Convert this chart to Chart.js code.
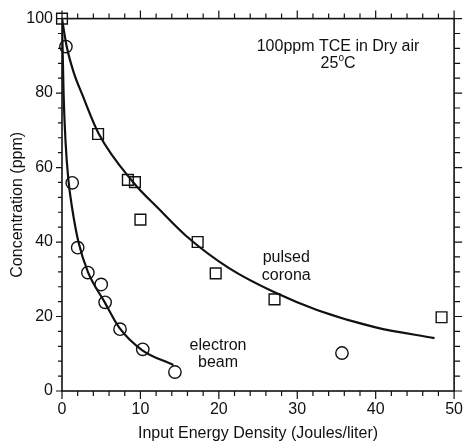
<!DOCTYPE html>
<html>
<head>
<meta charset="utf-8">
<script src="https://cdn.jsdelivr.net/npm/chart.js@4/dist/chart.umd.min.js"></script>
<style>
  html, body { margin: 0; padding: 0; background: #fff; }
</style>
</head>
<body>
<canvas id="myChart" width="472" height="444"></canvas>
<script>
// measured points, pulsed corona (squares)
var coronaX = [0, 4.6, 8.4, 9.3, 10.0, 17.3, 19.6, 27.1, 48.4];
var coronaY = [100, 69, 56.7, 56.1, 46, 40, 31.6, 24.6, 19.8];

// measured points, electron beam (circles)
var beamX = [0.5, 1.3, 2.0, 3.3, 5.0, 5.5, 7.4, 10.3, 14.4, 35.7];
var beamY = [92.5, 55.9, 38.5, 31.8, 28.6, 23.8, 16.6, 11.2, 5.1, 10.2];

// fitted curves
var coronaFitX = [0, 0.6, 1.5, 2.6, 4.7, 9.1, 12.3, 15.8, 21.3, 27.1, 32.6, 40, 47.5];
var coronaFitY = [100, 92.5, 85.5, 79.5, 69, 56, 49, 41.7, 33, 26.5, 21.7, 17.1, 14.2];
var beamFitX = [0, 0.2, 0.45, 0.8, 1.3, 2.1, 3.3, 5.4, 7.3, 10.2, 14.2];
var beamFitY = [100, 80, 67, 57, 49, 40, 32, 24, 17, 11, 7];

var xTicks = [0, 10, 20, 30, 40, 50];
var yTicks = [0, 20, 40, 60, 80, 100];
var xMinorStep = 2;
var yMinorStep = 4;

function pts(xs, ys) {
    return xs.map(function(v, i){ return {x: v, y: ys[i]}; });
}

var ink = '#111';
var font = 'Liberation Sans, Arial, Helvetica, sans-serif';

const frame = {
    id: 'frame',
    afterDraw(chart) {
        const ctx = chart.ctx, a = chart.chartArea;
        const sx = chart.scales.x, sy = chart.scales.y;
        ctx.save();
        ctx.strokeStyle = ink;
        ctx.lineWidth = 1.6;
        ctx.strokeRect(a.left, a.top, a.right - a.left, a.bottom - a.top);
        ctx.lineWidth = 1.2;
        ctx.beginPath();
        for (let v = xTicks[0]; v <= xTicks[xTicks.length - 1]; v += xMinorStep) {
            const px = sx.getPixelForValue(v);
            const len = xTicks.indexOf(v) >= 0 ? 8 : 5;
            ctx.moveTo(px, a.bottom); ctx.lineTo(px, a.bottom + len);
            ctx.moveTo(px, a.top); ctx.lineTo(px, a.top - len);
        }
        for (let v = yTicks[0]; v <= yTicks[yTicks.length - 1]; v += yMinorStep) {
            const py = sy.getPixelForValue(v);
            const len = yTicks.indexOf(v) >= 0 ? 6 : 4;
            ctx.moveTo(a.left, py); ctx.lineTo(a.left - len, py);
            ctx.moveTo(a.right, py); ctx.lineTo(a.right + len + 2, py);
        }
        ctx.stroke();

        // labels inside the plot
        const X = (v) => sx.getPixelForValue(v), Y = (v) => sy.getPixelForValue(v);
        ctx.fillStyle = ink;
        ctx.font = '16px ' + font;
        ctx.textAlign = 'center';
        ctx.textBaseline = 'middle';
        ctx.fillText('100ppm TCE in Dry air', X(35.2), Y(92.5));
        // 25 oC with raised o
        const cx = X(35.2), cy = Y(88);
        const w25 = ctx.measureText('25').width, wC = ctx.measureText('C').width;
        ctx.font = '10px ' + font;
        const wo = ctx.measureText('o').width;
        let left = cx - (w25 + wo + wC) / 2;
        ctx.textAlign = 'left';
        ctx.font = '16px ' + font;
        ctx.fillText('25', left, cy);
        ctx.font = '10px ' + font;
        ctx.fillText('o', left + w25, cy - 5);
        ctx.font = '16px ' + font;
        ctx.fillText('C', left + w25 + wo, cy);
        ctx.textAlign = 'center';
        ctx.fillText('pulsed', X(28.6), Y(35.8));
        ctx.fillText('corona', X(28.6), Y(31));
        ctx.fillText('electron', X(19.9), Y(12.3));
        ctx.fillText('beam', X(19.9), Y(7.5));
        ctx.restore();
    }
};

const ctx = document.getElementById('myChart').getContext('2d');
const myChart = new Chart(ctx, {
    type: 'scatter',
    data: {
        datasets: [{
            label: 'pulsed corona fit',
            data: pts(coronaFitX, coronaFitY),
            showLine: true,
            pointRadius: 0,
            borderColor: ink,
            borderWidth: 2.2,
            cubicInterpolationMode: 'monotone'
        }, {
            label: 'electron beam fit',
            data: pts(beamFitX, beamFitY),
            showLine: true,
            pointRadius: 0,
            borderColor: ink,
            borderWidth: 2.2,
            cubicInterpolationMode: 'monotone'
        }, {
            label: 'pulsed corona',
            data: pts(coronaX, coronaY),
            pointStyle: 'rect',
            pointRadius: 7.6,
            borderColor: ink,
            borderWidth: 1.4,
            backgroundColor: 'rgba(0,0,0,0)',
            clip: false
        }, {
            label: 'electron beam',
            data: pts(beamX, beamY),
            pointStyle: 'circle',
            pointRadius: 6.2,
            borderColor: ink,
            borderWidth: 1.4,
            backgroundColor: 'rgba(0,0,0,0)',
            clip: false
        }]
    },
    options: {
        responsive: false,
        animation: false,
        layout: {
            padding: {top: 17, right: 11, left: 0, bottom: 0}
        },
        scales: {
            x: {
                type: 'linear',
                min: 0,
                max: 50,
                afterFit: function(s){ s.height = 53; },
                grid: {display: false, drawTicks: false},
                border: {display: false},
                ticks: {
                    stepSize: 10,
                    padding: 9,
                    color: ink,
                    font: {family: font, size: 16}
                },
                title: {
                    display: true,
                    text: 'Input Energy Density (Joules/liter)',
                    color: ink,
                    font: {family: font, size: 16},
                    padding: {top: 0, bottom: 1}
                }
            },
            y: {
                min: 0,
                max: 100,
                afterFit: function(s){ s.width = 62; },
                grid: {display: false, drawTicks: false},
                border: {display: false},
                ticks: {
                    stepSize: 20,
                    padding: 9,
                    color: ink,
                    font: {family: font, size: 16}
                },
                title: {
                    display: true,
                    text: 'Concentration (ppm)',
                    color: ink,
                    font: {family: font, size: 16},
                    padding: {top: 8, bottom: 0}
                }
            }
        },
        plugins: {
            legend: {display: false},
            tooltip: {enabled: false}
        }
    },
    plugins: [frame]
});
</script>
</body>
</html>
